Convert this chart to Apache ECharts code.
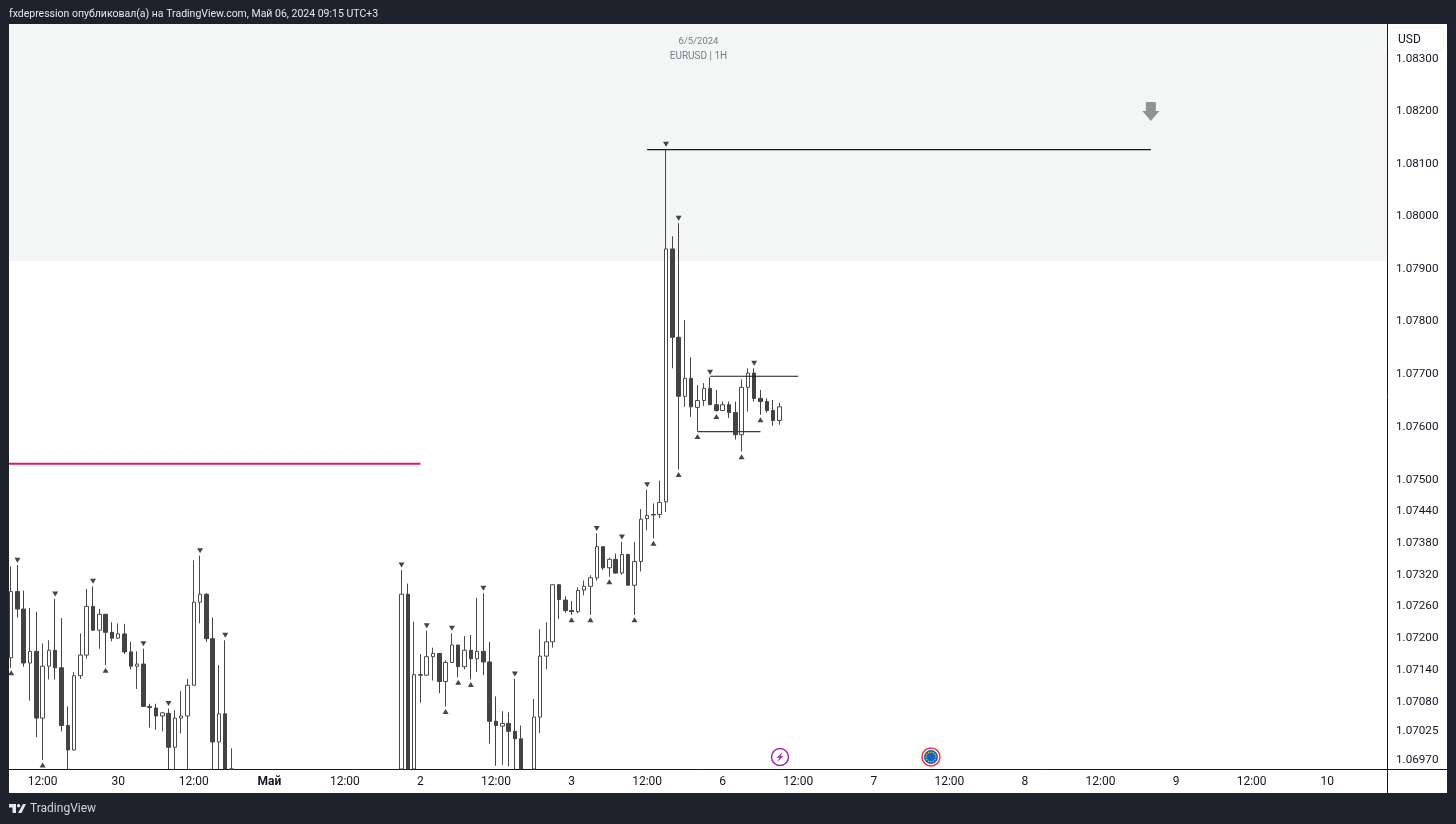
<!DOCTYPE html>
<html>
<head>
<meta charset="utf-8">
<title>EURUSD 1H</title>
<script src="https://cdn.jsdelivr.net/npm/echarts@6/dist/echarts.min.js"></script>
<style>
  html, body { margin: 0; padding: 0; background: #1e222d; }
  #chart { width: 1456px; height: 824px; }
</style>
</head>
<body>
<div id="chart"></div>
<script>
// hours 36-61 and 82 trade below the visible range, so they have no marks
const gap = Array(26).fill(null);

const opens = [
  1.07163,1.07288,1.07255,1.07153,1.07175,1.07049,1.07147,1.07177,1.07144,1.07035,
  1.06989,1.07129,1.07168,1.07260,1.07215,1.07245,1.07211,1.07200,1.07208,1.07174,
  1.07147,1.07151,1.07071,1.07068,1.07053,1.07058,1.06994,1.07049,1.07053,1.07111,
  1.07268,1.07283,1.07199,1.07004,1.07057,1.06940,...gap,
  1.06920,1.07283,1.06920,1.07131,1.07130,1.07165,1.07171,1.07118,
  1.07154,1.07187,1.07146,1.07177,1.07161,1.07175,1.07155,1.07043,1.07034,1.07039,
  1.07024,1.07010,null,1.06930,1.07051,1.07166,1.07193,1.07301,1.07272,1.07252,
  1.07250,1.07291,1.07298,1.07314,1.07373,1.07333,1.07349,1.07323,1.07358,1.07300,
  1.07345,1.07426,1.07434,1.07434,1.07458,1.07938,1.07770,1.07658,1.07692,1.07637,
  1.07650,1.07673,1.07642,1.07631,1.07642,1.07627,1.07585,1.07675,1.07702,1.07654,
  1.07648,1.07631,1.07612
];
const closes = [
  1.07288,1.07255,1.07153,1.07175,1.07049,1.07147,1.07177,1.07144,1.07035,1.06989,
  1.07129,1.07168,1.07260,1.07215,1.07245,1.07211,1.07200,1.07208,1.07174,1.07147,
  1.07151,1.07071,1.07069,1.07053,1.07059,1.06994,1.07049,1.07053,1.07111,1.07268,
  1.07283,1.07199,1.07004,1.07057,1.06920,1.06930,...gap,
  1.07283,1.06920,1.07131,1.07130,1.07165,1.07171,1.07118,1.07154,
  1.07187,1.07146,1.07177,1.07161,1.07175,1.07155,1.07043,1.07035,1.07039,1.07024,
  1.07010,1.06930,null,1.07051,1.07166,1.07193,1.07301,1.07273,1.07252,1.07250,
  1.07290,1.07298,1.07314,1.07373,1.07333,1.07349,1.07323,1.07358,1.07300,1.07345,
  1.07425,1.07432,1.07433,1.07457,1.07938,1.07770,1.07658,1.07692,1.07638,1.07650,
  1.07673,1.07642,1.07631,1.07642,1.07627,1.07585,1.07675,1.07702,1.07654,1.07648,
  1.07631,1.07612,1.07638
];
const lows = [
  1.07144,1.07239,1.07146,1.07082,1.07013,1.06970,1.07122,1.07122,1.07024,1.06900,
  1.06988,1.07123,1.07161,1.07214,1.07180,1.07149,1.07194,1.07199,1.07170,1.07141,
  1.07104,1.07070,1.07031,1.07027,1.07024,1.06900,1.06900,1.07020,1.06900,1.07111,
  1.07228,1.07193,1.06900,1.06900,1.06900,1.06900,...gap,
  1.06900,1.06900,1.06900,1.07078,1.07130,1.07120,1.07096,1.07071,
  1.07154,1.07126,1.07141,1.07122,1.07136,1.07130,1.07001,1.06959,1.06961,1.06958,
  1.06900,1.06900,null,1.06900,1.07021,1.07141,1.07182,1.07236,1.07248,1.07244,
  1.07247,1.07281,1.07244,1.07309,1.07329,1.07316,1.07322,1.07320,1.07300,1.07244,
  1.07326,1.07404,1.07389,1.07427,1.07439,1.07711,1.07519,1.07638,1.07619,1.07591,
  1.07640,1.07642,1.07629,1.07631,1.07617,1.07576,1.07553,1.07629,1.07648,1.07623,
  1.07627,1.07602,1.07604
];
const highs = [
  1.07336,1.07338,1.07290,1.07257,1.07250,1.07190,1.07196,1.07274,1.07238,1.07071,
  1.07136,1.07209,1.07293,1.07298,1.07255,1.07246,1.07230,1.07228,1.07227,1.07193,
  1.07175,1.07180,1.07076,1.07076,1.07060,1.07067,1.07064,1.07100,1.07123,1.07347,
  1.07356,1.07285,1.07239,1.07149,1.07196,1.06992,...gap,
  1.07329,1.07303,1.07231,1.07170,1.07214,1.07182,1.07171,1.07158,
  1.07209,1.07187,1.07204,1.07206,1.07276,1.07285,1.07193,1.07090,1.07062,1.07060,
  1.07123,1.07035,null,1.07085,1.07217,1.07230,1.07301,1.07301,1.07279,1.07270,
  1.07296,1.07309,1.07319,1.07398,1.07373,1.07352,1.07360,1.07382,1.07360,1.07382,
  1.07444,1.07481,1.07455,1.07498,1.08128,1.07962,1.07987,1.07803,1.07732,1.07679,
  1.07683,1.07694,1.07670,1.07648,1.07648,1.07648,1.07690,1.07711,1.07711,1.07670,
  1.07654,1.07651,1.07646
];

// swing markers, by candle number
const swingHighs = [1,7,13,21,25,30,34,62,66,70,75,80,93,97,101,104,106,111,118];
const swingLows = [0,5,15,69,71,73,89,92,95,99,102,106,109,112,116,119];

// horizontal levels: [from candle, to candle, price]
const redLevel = [-1, 65, 1.0753];
const topLevel = [101, 181, 1.08127];
const rangeHigh = [111, 125, 1.07696];
const rangeLow = [109, 119, 1.07591];

const bandLow = 1.07915;
const yMin = 1.06953;
const yMax = 1.083668;
const arrowPoint = [181, 1.082];

const yTicks = [1.083,1.082,1.081,1.08,1.079,1.078,1.077,1.076,1.075,1.0744,1.0738,1.0732,1.0726,1.072,1.0714,1.0708,1.07025,1.0697];
const timeLabels = ['12:00','30','12:00','Май','12:00','2','12:00','3','12:00','6','12:00','7','12:00','8','12:00','9','12:00','10'];

const categoryCount = 219;
const categories = [];
for (let i = 0; i < categoryCount; i++) {
  categories.push((i - 5) % 12 === 0 && i >= 5 ? (timeLabels[(i - 5) / 12] || '') : '');
}

// candlestick only culls whole boxes, so stop the ones leaving the scale at its bottom
const inScale = v => Math.max(v, yMin);
const candles = opens.map((o, i) => o === null
  ? ['-', '-', '-', '-']
  : [inScale(o), inScale(closes[i]), inScale(lows[i]), highs[i]]);

const FONT = 'Roboto, "Noto Sans", sans-serif';
const FRAME = '#1e222d';
const INK = '#131722';

function levelSeries(level, color, width) {
  return {
    type: 'line',
    data: [[level[0], level[2]], [level[1], level[2]]],
    showSymbol: false,
    silent: true,
    z: 3,
    lineStyle: { color: color, width: width }
  };
}

// eu stars on the calendar icon
const euStars = [];
for (let k = 0; k < 12; k++) {
  const a = k * Math.PI / 6;
  euStars.push({
    type: 'circle', z: 60,
    shape: { cx: 931 + 4.8 * Math.cos(a), cy: 757 + 4.8 * Math.sin(a), r: 0.75 },
    style: { fill: '#f5c518' }
  });
}

const frameRects = [
  [0, 0, 1456, 24], [0, 793, 1456, 31], [0, 0, 9, 824], [1447, 0, 9, 824]
].map(r => ({
  type: 'rect', z: 100, silent: true,
  shape: { x: r[0], y: r[1], width: r[2], height: r[3] },
  style: { fill: FRAME }
}));

const chart = echarts.init(document.getElementById('chart'));
chart.setOption({
  animation: false,
  backgroundColor: '#fff',
  grid: { left: 8, right: 69, top: 24, bottom: 55 },
  xAxis: {
    type: 'category',
    data: categories,
    boundaryGap: true,
    axisLine: { lineStyle: { color: INK, width: 1 } },
    axisTick: { show: false },
    splitLine: { show: false },
    axisLabel: {
      interval: 0,
      margin: 7,
      color: INK,
      fontFamily: FONT,
      fontSize: 12,
      formatter: v => v === 'Май' ? '{b|Май}' : v,
      rich: { b: { fontWeight: 'bold', fontSize: 12, fontFamily: FONT, color: INK } }
    }
  },
  yAxis: {
    type: 'log',
    position: 'right',
    min: yMin,
    max: yMax,
    axisLine: { show: true, lineStyle: { color: INK, width: 1 } },
    axisTick: { show: false },
    splitLine: { show: false },
    minorTick: { show: false },
    axisLabel: {
      customValues: yTicks,
      margin: 9,
      padding: [2, 0, 0, 0],
      color: INK,
      fontFamily: FONT,
      fontSize: 11.7,
      formatter: v => Number(v).toFixed(5)
    }
  },
  series: [
    {
      type: 'candlestick',
      data: candles,
      barWidth: 4,
      z: 2,
      silent: true,
      itemStyle: {
        color: '#ffffff',
        color0: '#434343',
        borderColor: '#4a4a4a',
        borderColor0: '#434343',
        borderWidth: 1
      },
      markArea: {
        silent: true,
        z: 1,
        itemStyle: { color: '#f4f6f5' },
        data: [[{ yAxis: bandLow }, { yAxis: yMax }]]
      }
    },
    levelSeries(redLevel, '#e0195f', 2),
    levelSeries(topLevel, INK, 1.2),
    levelSeries(rangeHigh, INK, 1.2),
    levelSeries(rangeLow, '#3c3c3c', 1.2),
    {
      type: 'scatter',
      silent: true,
      symbol: 'triangle',
      symbolRotate: 180,
      symbolSize: [6, 5],
      symbolOffset: [0, -5],
      itemStyle: { color: INK },
      data: swingHighs.map(i => [i, highs[i]]),
      z: 4
    },
    {
      type: 'scatter',
      silent: true,
      symbol: 'triangle',
      symbolSize: [6, 5],
      symbolOffset: [0, 5],
      itemStyle: { color: INK },
      data: swingLows.map(i => [i, lows[i]]),
      z: 4
    },
    {
      type: 'scatter',
      silent: true,
      symbol: 'path://M3.5 0H13.5V9H17L8.5 19L0 9H3.5Z',
      symbolSize: [17, 19],
      itemStyle: { color: '#787b7b' },
      data: [arrowPoint],
      z: 4
    }
  ],
  graphic: [
    ...frameRects,
    // scale borders past the plot corner
    { type: 'rect', z: 50, silent: true, shape: { x: 1387, y: 769, width: 1, height: 24 }, style: { fill: INK } },
    { type: 'rect', z: 50, silent: true, shape: { x: 1387, y: 769, width: 60, height: 1 }, style: { fill: INK } },
    // header and footer
    { type: 'text', z: 101, silent: true, style: { x: 9, y: 14.5, text: 'fxdepression опубликовал(а) на TradingView.com, Май 06, 2024 09:15 UTC+3', fill: '#e4e6ea', font: '10.5px ' + FONT, textVerticalAlign: 'middle' } },
    { type: 'polygon', z: 101, silent: true, shape: { points: [[9, 804], [16, 804], [16, 813], [12.5, 813], [12.5, 807.5], [9, 807.5]] }, style: { fill: '#e4e6ea' } },
    { type: 'polygon', z: 101, silent: true, shape: { points: [[23, 804], [26, 804], [21.5, 813], [18, 813]] }, style: { fill: '#e4e6ea' } },
    { type: 'circle', z: 101, silent: true, shape: { cx: 18.6, cy: 805.7, r: 1.7 }, style: { fill: '#e4e6ea' } },
    { type: 'text', z: 101, silent: true, style: { x: 30, y: 809, text: 'TradingView', fill: '#d1d4dc', font: '12px ' + FONT, textVerticalAlign: 'middle' } },
    // chart note
    { type: 'text', z: 60, silent: true, style: { x: 698.5, y: 41.5, text: '6/5/2024', fill: '#787b86', font: '9.5px ' + FONT, textAlign: 'center', textVerticalAlign: 'middle' } },
    { type: 'text', z: 60, silent: true, style: { x: 698.5, y: 56.5, text: 'EURUSD | 1H', fill: '#787b86', font: '10px ' + FONT, textAlign: 'center', textVerticalAlign: 'middle' } },
    // currency button
    { type: 'rect', z: 60, silent: true, shape: { x: 1390.5, y: 27.5, width: 53, height: 23, r: 3 }, style: { fill: '#fff', stroke: '#f0f3fa', lineWidth: 1 } },
    { type: 'text', z: 61, silent: true, style: { x: 1398, y: 40, text: 'USD', fill: INK, font: '12px ' + FONT, textVerticalAlign: 'middle' } },
    // event icons
    { type: 'circle', z: 60, silent: true, shape: { cx: 780, cy: 757, r: 8.5 }, style: { fill: '#fff', stroke: '#9c27b0', lineWidth: 1.5 } },
    { type: 'polygon', z: 61, silent: true, shape: { points: [[782.8, 752], [776.6, 757.8], [779.6, 757.8], [777.2, 762], [783.4, 756.2], [780.4, 756.2]] }, style: { fill: '#9c27b0' } },
    { type: 'circle', z: 60, silent: true, shape: { cx: 931, cy: 757, r: 9 }, style: { fill: '#fff', stroke: '#f23645', lineWidth: 1.5 } },
    { type: 'circle', z: 60, silent: true, shape: { cx: 931, cy: 757, r: 7 }, style: { fill: '#1565c0' } },
    ...euStars
  ]
});
</script>
</body>
</html>
